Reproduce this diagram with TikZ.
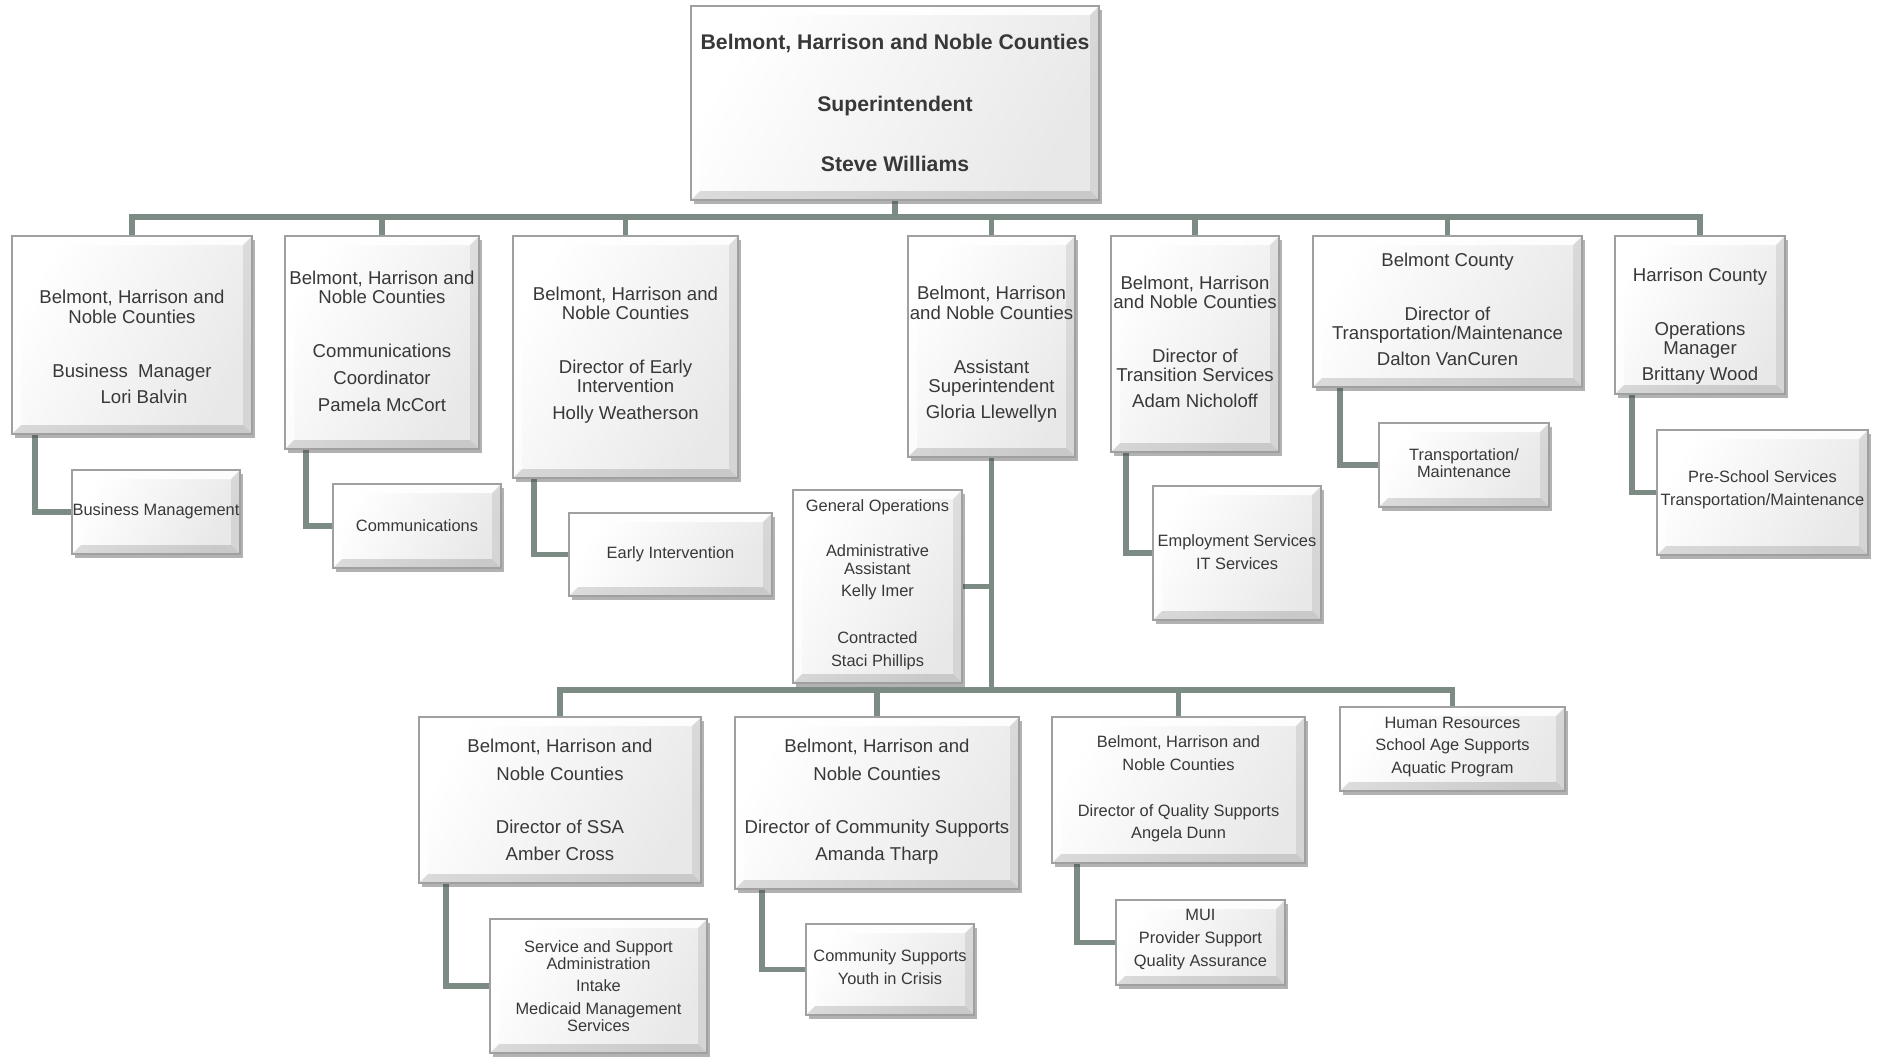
\documentclass[tikz,border=0pt]{standalone}
\usepackage{fontspec}
\setmainfont{Liberation Sans}
\usetikzlibrary{shadows}
\definecolor{conncol}{HTML}{7C8B83}
\definecolor{edgecol}{HTML}{A0A0A0}
\definecolor{txtcol}{HTML}{383838}
\definecolor{toptxt}{HTML}{1E1E1E}
\pgfdeclarelayer{background}
\pgfsetlayers{background,main}
\newcommand\fA{\fontsize{9.3}{9.6}\selectfont}
\newcommand\fB{\fontsize{8.2}{9}\selectfont}
\newcommand\fT{\fontsize{10.6}{11}\selectfont\bfseries\color{toptxt}}
\newlength\bvw \setlength\bvw{4.5pt}
\tikzset{
  bx/.style={rectangle, draw=edgecol, line width=0.6pt, inner sep=0pt, outer sep=0pt,
    left color=white, right color=black!9, shading angle=60,
    drop shadow={shadow xshift=1.6pt, shadow yshift=-1.8pt, opacity=0.4, fill=black!75},
    path picture={
      \path (path picture bounding box.north west) coordinate (pnw)
            (path picture bounding box.north east) coordinate (pne)
            (path picture bounding box.south west) coordinate (psw)
            (path picture bounding box.south east) coordinate (pse);
      \fill[white, opacity=0.9] (pnw) -- (pne) -- ([shift={(-\bvw,-\bvw)}]pne) -- ([shift={(\bvw,-\bvw)}]pnw) -- cycle;
      \fill[white, opacity=0.7] (pnw) -- ([shift={(\bvw,-\bvw)}]pnw) -- ([shift={(\bvw,\bvw)}]psw) -- (psw) -- cycle;
      \fill[black, opacity=0.08] (pne) -- (pse) -- ([shift={(-\bvw,\bvw)}]pse) -- ([shift={(-\bvw,-\bvw)}]pne) -- cycle;
      \fill[black, opacity=0.13] (psw) -- (pse) -- ([shift={(-\bvw,\bvw)}]pse) -- ([shift={(\bvw,\bvw)}]psw) -- cycle;
    }},
  txt/.style={align=center, text=txtcol, inner sep=0pt},
  conn/.style={draw=conncol, line width=2.6pt}
}
% name, x1, y1, x2, y2, font, text y-offset (px), text
\newcommand\orgbox[8]{%
  \node[bx, minimum width={(#4-#2)*0.5pt}, minimum height={(#5-#3)*0.5pt}] (#1) at ({(#2+#4)/2},{(#3+#5)/2}) {};
  \node[txt, font=#6] (#1-t) at ({(#2+#4)/2},{(#3+#5)/2+#7}) {#8};}
\begin{document}
\begin{tikzpicture}[x=0.5pt, y=-0.5pt]
\useasboundingbox (0,0) rectangle (1879,1056);
\begin{pgfonlayer}{background}
\fill[white] (0,0) rectangle (1879,1056);
\end{pgfonlayer}

\orgbox{top}{691}{6}{1099}{200}{\fT}{0}{Belmont, Harrison and Noble Counties\\[20.2pt]Superintendent\\[19pt]Steve Williams}

\orgbox{b1}{12}{236}{252}{434}{\fA}{12}{Belmont, Harrison and\\Noble Counties\\[17.4pt]Business\ \ Manager\\[3.6pt]\hspace*{12pt}Lori Balvin}
\orgbox{b2}{285}{236}{479}{449}{\fA}{-1}{Belmont, Harrison and\\Noble Counties\\[17.4pt]Communications\\[3.6pt]Coordinator\\[4.2pt]Pamela McCort}
\orgbox{b3}{513}{236}{738}{478}{\fA}{-2}{Belmont, Harrison and\\Noble Counties\\[17.4pt]Director of Early\\Intervention\\[3.6pt]Holly Weatherson}
\orgbox{b4}{908}{236}{1075}{457}{\fA}{8}{Belmont, Harrison\\and Noble Counties\\[17.4pt]Assistant\\Superintendent\\[3.6pt]Gloria Llewellyn}
\orgbox{b5}{1111}{236}{1279}{452}{\fA}{-2}{Belmont, Harrison\\and Noble Counties\\[17pt]Director of\\Transition Services\\[3.6pt]Adam Nicholoff}
\orgbox{b6}{1313}{236}{1582}{387}{\fA}{-2}{Belmont County\\[17.4pt]Director of\\Transportation/Maintenance\\[3.6pt]Dalton VanCuren}
\orgbox{b7}{1615}{236}{1785}{394}{\fA}{11}{Harrison County\\[17.4pt]Operations\\Manager\\[3.6pt]Brittany Wood}

\orgbox{c1}{72}{470}{240}{554}{\fB}{-1}{Business Management}
\orgbox{c2}{333}{484}{501}{568}{\fB}{0}{Communications}
\orgbox{c3}{569}{513}{772}{596}{\fB}{0}{Early Intervention}
\orgbox{c5}{1153}{486}{1321}{620}{\fB}{-1}{Employment Services\\[2.4pt]IT Services}
\orgbox{c6}{1379}{423}{1549}{507}{\fB}{-2}{Transportation/\\[-0.6pt]Maintenance}
\orgbox{c7}{1657}{430}{1868}{555}{\fB}{-3}{Pre-School Services\\[2.4pt]Transportation/Maintenance}

\orgbox{go}{793}{490}{962}{683}{\fB}{-2}{General Operations\\[13.8pt]Administrative\\Assistant\\[1.8pt]Kelly Imer\\[14.4pt]Contracted\\[2.4pt]Staci Phillips}

\orgbox{d1}{419}{717}{701}{883}{\fA}{0}{Belmont, Harrison and\\[4.2pt]Noble Counties\\[16.8pt]Director of SSA\\[4.2pt]Amber Cross}
\orgbox{d2}{735}{717}{1019}{889}{\fA}{-1}{Belmont, Harrison and\\[4.2pt]Noble Counties\\[16.8pt]Director of Community Supports\\[4.2pt]Amanda Tharp}
\orgbox{d3}{1052}{717}{1305}{863}{\fB}{-1}{Belmont, Harrison and\\[2.4pt]Noble Counties\\[13.8pt]Director of Quality Supports\\[2.4pt]Angela Dunn}
\orgbox{d4}{1340}{707}{1565}{791}{\fB}{-2}{Human Resources\\[2.4pt]School Age Supports\\[2.4pt]Aquatic Program}

\orgbox{e1}{490}{919}{707}{1053}{\fB}{0}{Service and Support\\[-0.6pt]Administration\\[2.4pt]Intake\\[2.4pt]Medicaid Management\\[-0.6pt]Services}
\orgbox{e2}{806}{924}{974}{1015}{\fB}{-2}{Community Supports\\[2.4pt]Youth in Crisis}
\orgbox{e3}{1116}{900}{1285}{985}{\fB}{-3}{MUI\\[2.4pt]Provider Support\\[2.4pt]Quality Assurance}

\coordinate (bus1) at (0,217);
\coordinate (bus2) at (0,690);
\begin{pgfonlayer}{background}
\foreach \n in {b1,b2,b3,b4,b5,b6,b7}
  \draw[conn] (top.south) -- (top.south |- bus1) -| (\n.north);
\foreach \n in {d1,d2,d3,d4}
  \draw[conn] (b4.south) -- (b4.south |- bus2) -| (\n.north);
\draw[conn] (go.east) -- (go.east -| b4.south);
\draw[conn] ([xshift=11.5pt]b1.south west) |- (c1.west);
\draw[conn] ([xshift=10.5pt]b2.south west) |- (c2.west);
\draw[conn] ([xshift=10.5pt]b3.south west) |- (c3.west);
\draw[conn] ([xshift=7.5pt]b5.south west) |- (c5.west);
\draw[conn] ([xshift=13.5pt]b6.south west) |- (c6.west);
\draw[conn] ([xshift=8.5pt]b7.south west) |- (c7.west);
\draw[conn] ([xshift=13.5pt]d1.south west) |- (e1.west);
\draw[conn] ([xshift=13.5pt]d2.south west) |- (e2.west);
\draw[conn] ([xshift=12.5pt]d3.south west) |- (e3.west);
\end{pgfonlayer}
\end{tikzpicture}
\end{document}
